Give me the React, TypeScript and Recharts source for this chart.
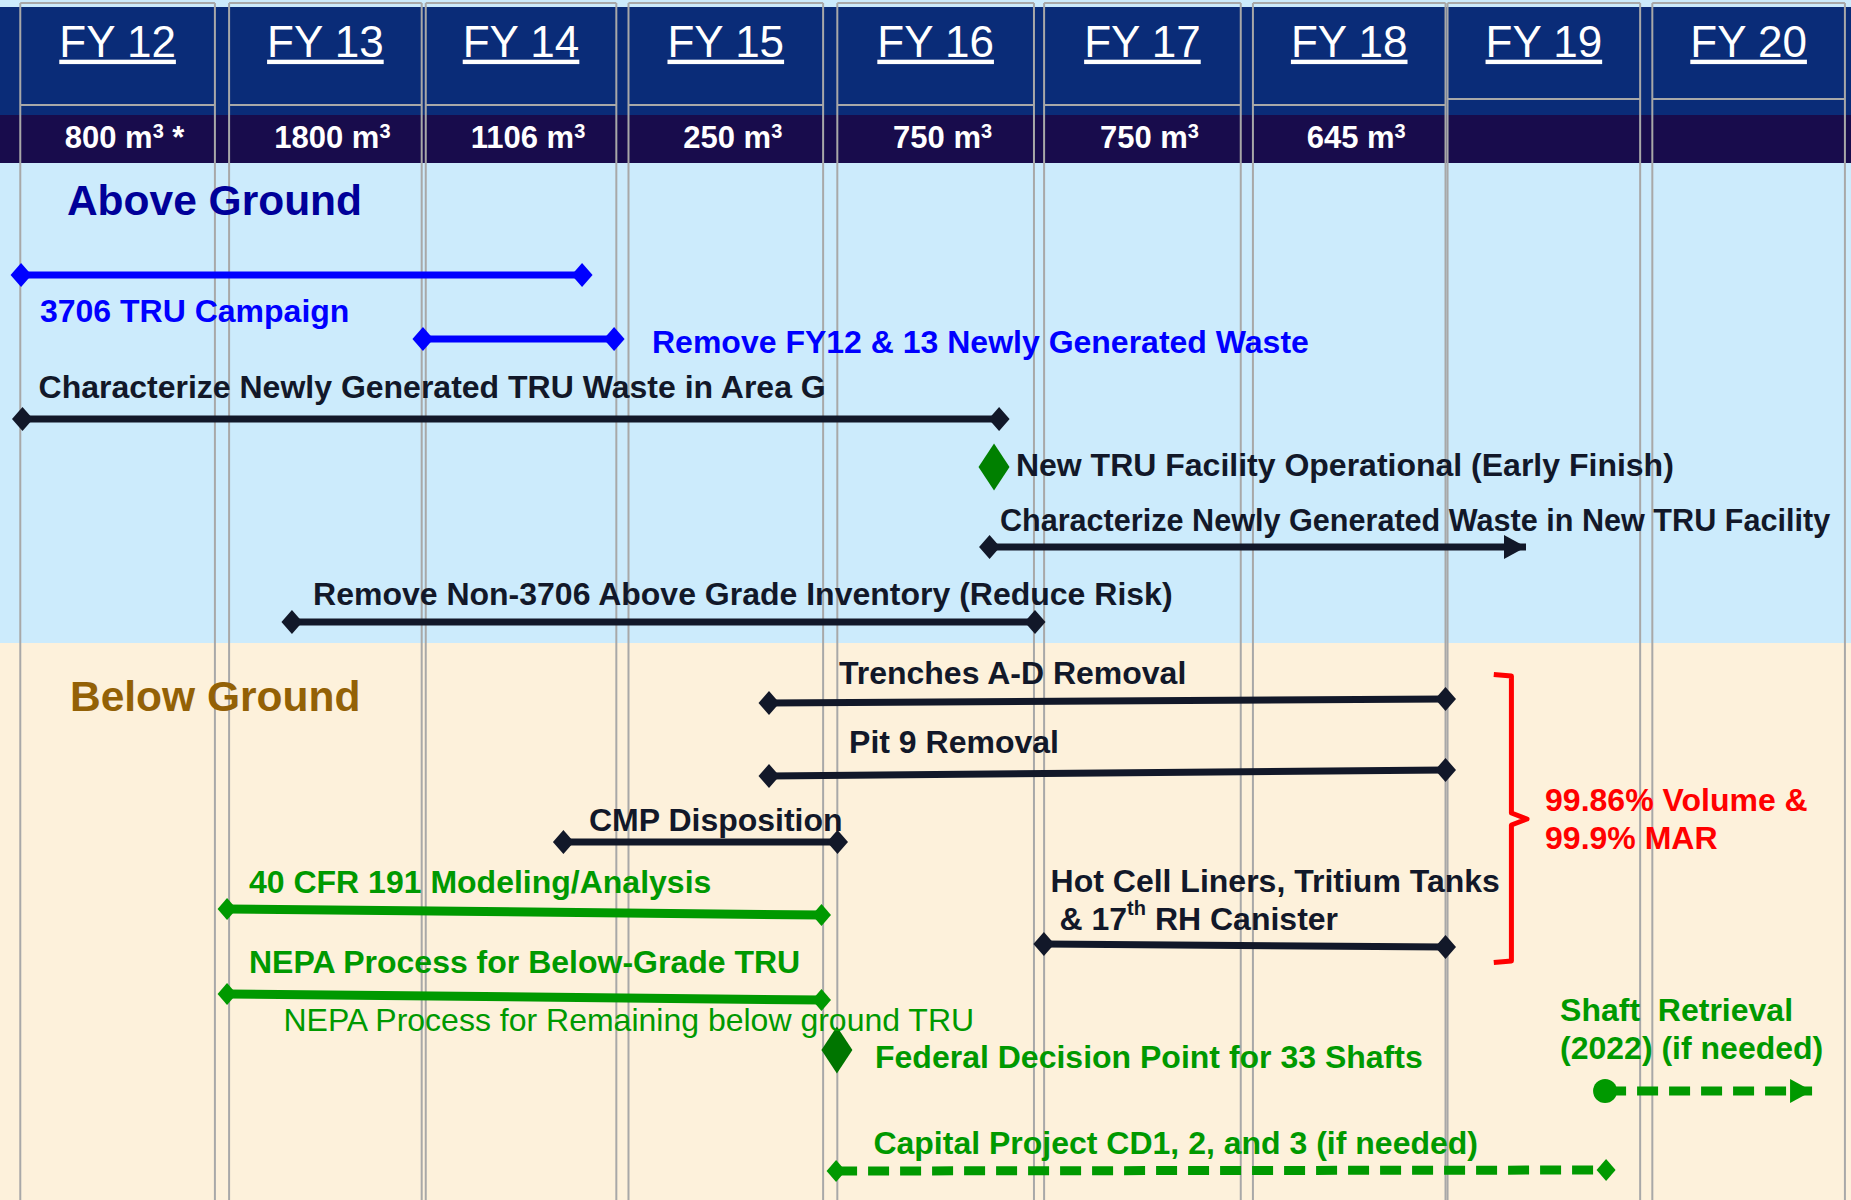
import React from 'react';
import { ComposedChart, XAxis, YAxis, Line, Scatter, ReferenceArea, ReferenceLine } from 'recharts';

const FONT = "'Liberation Sans', Arial, Helvetica, sans-serif";
const X_DOMAIN: [number, number] = [11.9, 21.03];
const Y_DOMAIN: [number, number] = [0, 120];

// header columns (fiscal years)
const fiscalYears = ['FY 12', 'FY 13', 'FY 14', 'FY 15', 'FY 16', 'FY 17', 'FY 18', 'FY 19', 'FY 20'];
const volumes = ['800', '1800', '1106', '250', '750', '750', '645', '', ''];
const volumeNotes = [' *', '', '', '', '', '', '', '', ''];
const columnStart = [12.0, 13.03, 14.0, 15.0, 16.03, 17.05, 18.08, 19.04, 20.05];
const columnEnd = [12.96, 13.98, 14.94, 15.96, 17.0, 18.02, 19.03, 19.99, 21.0];
const headerSplit = [10.5, 10.5, 10.5, 10.5, 10.5, 10.5, 10.5, 9.9, 9.9];

// row bands
const bands = [
  { name: 'top', from: 0, to: 0.7, tone: 'sky' },
  { name: 'headerTop', from: 0.7, to: 11.5, tone: 'headerBlue' },
  { name: 'headerBottom', from: 11.5, to: 16.3, tone: 'headerIndigo' },
  { name: 'Above Ground', from: 16.3, to: 64.3, tone: 'sky' },
  { name: 'Below Ground', from: 64.3, to: 120, tone: 'sand' },
];

// activities: start / end in fiscal-year units, lane positions
const tasks = [
  { name: '3706 TRU Campaign', x1: 12.004, x2: 14.771, y1: 27.5, y2: 27.5, tone: 'blue', start: 'diamond', end: 'diamond', planned: false },
  { name: 'Remove FY12 & 13 Newly Generated Waste', x1: 13.986, x2: 14.929, y1: 33.9, y2: 33.9, tone: 'blue', start: 'diamond', end: 'diamond', planned: false },
  { name: 'Characterize Newly Generated TRU Waste in Area G', x1: 12.011, x2: 16.828, y1: 41.9, y2: 41.9, tone: 'dark', start: 'diamond', end: 'diamond', planned: false },
  { name: 'Characterize Newly Generated Waste in New TRU Facility', x1: 16.781, x2: 19.427, y1: 54.7, y2: 54.7, tone: 'dark', start: 'diamond', end: 'arrow', planned: false },
  { name: 'Remove Non-3706 Above Grade Inventory', x1: 13.34, x2: 17.005, y1: 62.2, y2: 62.2, tone: 'dark', start: 'diamond', end: 'diamond', planned: false },
  { name: 'Trenches A-D Removal', x1: 15.693, x2: 19.03, y1: 70.3, y2: 69.9, tone: 'dark', start: 'diamond', end: 'diamond', planned: false },
  { name: 'Pit 9 Removal', x1: 15.693, x2: 19.03, y1: 77.6, y2: 77.0, tone: 'dark', start: 'diamond', end: 'diamond', planned: false },
  { name: 'CMP Disposition', x1: 14.679, x2: 16.031, y1: 84.2, y2: 84.2, tone: 'dark', start: 'diamond', end: 'diamond', planned: false },
  { name: '40 CFR 191 Modeling/Analysis', x1: 13.02, x2: 15.952, y1: 90.9, y2: 91.5, tone: 'green', start: 'diamond', end: 'diamond', planned: false },
  { name: 'NEPA Process for Below-Grade TRU', x1: 13.02, x2: 15.952, y1: 99.4, y2: 100.0, tone: 'green', start: 'diamond', end: 'diamond', planned: false },
  { name: 'Hot Cell Liners', x1: 17.049, x2: 19.03, y1: 94.4, y2: 94.7, tone: 'dark', start: 'diamond', end: 'diamond', planned: false },
  { name: 'Capital Project CD1, 2, and 3', x1: 16.024, x2: 19.822, y1: 117.1, y2: 117.0, tone: 'green', start: 'diamond', end: 'diamond', planned: true },
  { name: 'Shaft Retrieval', x1: 19.817, x2: 20.838, y1: 109.1, y2: 109.1, tone: 'green', start: 'circle', end: 'arrow', planned: true },
];

const milestones = [
  { name: 'New TRU Facility Operational', x: 16.803, y: 46.7, tone: 'milestone' },
  { name: 'Federal Decision Point for 33 Shafts', x: 16.028, y: 105.0, tone: 'milestoneDark' },
];

// bracket grouping below-ground removals
const bracket = [
  { x: 19.268, y: 67.45 },
  { x: 19.355, y: 67.6 },
  { x: 19.355, y: 81.3 },
  { x: 19.432, y: 81.9 },
  { x: 19.355, y: 82.5 },
  { x: 19.355, y: 96.1 },
  { x: 19.268, y: 96.25 },
];

const labels = [
  { text: 'Above Ground', x: 12.23, y: 20.0, tone: 'section', sup: '', after: '' },
  { text: 'Below Ground', x: 12.245, y: 69.6, tone: 'sectionBrown', sup: '', after: '' },
  { text: '3706 TRU Campaign', x: 12.097, y: 31.1, tone: 'blue', sup: '', after: '' },
  { text: 'Remove FY12 & 13 Newly Generated Waste', x: 15.116, y: 34.2, tone: 'blue', sup: '', after: '' },
  { text: 'Characterize Newly Generated TRU Waste in Area G', x: 12.09, y: 38.7, tone: 'dark', sup: '', after: '' },
  { text: 'New TRU Facility Operational (Early Finish)', x: 16.911, y: 46.5, tone: 'dark', sup: '', after: '' },
  { text: 'Characterize Newly Generated Waste in New TRU Facility', x: 16.832, y: 52.0, tone: 'darkNarrow', sup: '', after: '' },
  { text: 'Remove Non-3706 Above Grade Inventory (Reduce Risk)', x: 13.444, y: 59.4, tone: 'dark', sup: '', after: '' },
  { text: 'Trenches A-D Removal', x: 16.038, y: 67.3, tone: 'dark', sup: '', after: '' },
  { text: 'Pit 9 Removal', x: 16.088, y: 74.2, tone: 'dark', sup: '', after: '' },
  { text: 'CMP Disposition', x: 14.805, y: 82.0, tone: 'dark', sup: '', after: '' },
  { text: '40 CFR 191 Modeling/Analysis', x: 13.128, y: 88.2, tone: 'green', sup: '', after: '' },
  { text: 'NEPA Process for Below-Grade TRU', x: 13.128, y: 96.2, tone: 'green', sup: '', after: '' },
  { text: 'NEPA Process for Remaining below ground TRU', x: 13.298, y: 102.0, tone: 'greenLight', sup: '', after: '' },
  { text: 'Federal Decision Point for 33 Shafts', x: 16.216, y: 105.7, tone: 'green', sup: '', after: '' },
  { text: 'Capital Project CD1, 2, and 3 (if needed)', x: 16.208, y: 114.3, tone: 'green', sup: '', after: '' },
  { text: 'Shaft  Retrieval', x: 19.595, y: 101.0, tone: 'green', sup: '', after: '' },
  { text: '(2022) (if needed)', x: 19.595, y: 104.8, tone: 'green', sup: '', after: '' },
  { text: 'Hot Cell Liners, Tritium Tanks', x: 17.082, y: 88.1, tone: 'dark', sup: '', after: '' },
  { text: '& 17', x: 17.126, y: 91.9, tone: 'dark', sup: 'th', after: ' RH Canister' },
  { text: '99.86% Volume &', x: 19.521, y: 80.0, tone: 'red', sup: '', after: '' },
  { text: '99.9% MAR', x: 19.521, y: 83.8, tone: 'red', sup: '', after: '' },
];

const COLORS: Record<string, string> = {
  sky: '#CCEBFC',
  sand: '#FDF1DB',
  headerBlue: '#0A2C78',
  headerIndigo: '#180C4C',
  grid: '#A8A8A8',
  blue: '#0000FF',
  dark: '#121829',
  darkNarrow: '#121829',
  green: '#009900',
  greenLight: '#009900',
  red: '#FF0000',
  section: '#000099',
  sectionBrown: '#936106',
  milestone: '#008000',
  milestoneDark: '#007500',
};

const LABEL_STYLE: Record<string, { size: number; weight: string }> = {
  section: { size: 42.5, weight: 'bold' },
  sectionBrown: { size: 42.5, weight: 'bold' },
  blue: { size: 32, weight: 'bold' },
  dark: { size: 32, weight: 'bold' },
  darkNarrow: { size: 30.6, weight: 'bold' },
  green: { size: 32, weight: 'bold' },
  greenLight: { size: 32, weight: 'normal' },
  red: { size: 32, weight: 'bold' },
};

const headerRows = fiscalYears.map((fy, i) => ({
  x: (columnStart[i] + columnEnd[i]) / 2,
  y: 5.67,
  fy,
  vol: volumes[i],
  note: volumeNotes[i],
}));
const volumeRows = headerRows.map((r) => ({ ...r, y: 14.8 }));

const diamondPath = (cx: number, cy: number, w: number, h: number) =>
  `M${cx - w / 2},${cy} L${cx},${cy - h / 2} L${cx + w / 2},${cy} L${cx},${cy + h / 2} Z`;

const makeDot = (task: any) => (props: any) => {
  const { cx, cy, index } = props;
  const kind = index === 0 ? task.start : task.end;
  const color = COLORS[task.tone];
  const key = `${task.name}-${index}`;
  if (cx == null || cy == null) return <g key={key} />;
  if (kind === 'diamond') {
    const w = task.tone === 'green' ? 19 : 21;
    const h = task.tone === 'green' ? 22 : 24;
    return <path key={key} d={diamondPath(cx, cy, w, h)} fill={color} />;
  }
  if (kind === 'arrow') {
    return <path key={key} d={`M${cx},${cy} L${cx - 22},${cy - 12} L${cx - 22},${cy + 12} Z`} fill={color} />;
  }
  if (kind === 'circle') {
    return <ellipse key={key} cx={cx} cy={cy} rx={12} ry={12} fill={color} />;
  }
  return <g key={key} />;
};

const LabelShape = (props: any) => {
  const { cx, cy, payload } = props;
  if (cx == null || cy == null) return <g />;
  const st = LABEL_STYLE[payload.tone];
  return (
    <text
      x={cx}
      y={cy}
      fill={COLORS[payload.tone]}
      fontSize={st.size}
      fontWeight={st.weight}
      fontFamily={FONT}
      dominantBaseline="central"
      style={{ whiteSpace: 'pre' }}
    >
      <tspan>{payload.text}</tspan>
      {payload.sup ? (
        <tspan fontSize={20} dy={-11}>
          {payload.sup}
        </tspan>
      ) : null}
      {payload.after ? <tspan dy={payload.sup ? 11 : 0}>{payload.after}</tspan> : null}
    </text>
  );
};

const FyShape = (props: any) => {
  const { cx, cy, payload } = props;
  if (cx == null || cy == null) return <g />;
  return (
    <text x={cx} y={cy} fill="#FFFFFF" fontSize={44} fontFamily={FONT} textAnchor="middle" textDecoration="underline">
      {payload.fy}
    </text>
  );
};

const VolumeShape = (props: any) => {
  const { cx, cy, payload } = props;
  if (cx == null || cy == null || !payload.vol) return <g />;
  return (
    <text x={cx} y={cy} dx={7} fill="#FFFFFF" fontSize={31} fontWeight="bold" fontFamily={FONT} textAnchor="middle" style={{ whiteSpace: 'pre' }}>
      <tspan>{payload.vol + ' m'}</tspan>
      <tspan fontSize={20} dy={-10}>3</tspan>
      {payload.note ? <tspan dy={10}>{payload.note}</tspan> : null}
    </text>
  );
};

const MilestoneShape = (props: any) => {
  const { cx, cy, payload } = props;
  if (cx == null || cy == null) return <g />;
  return <path d={diamondPath(cx, cy, 31, 47)} fill={COLORS[payload.tone]} />;
};

export default function App() {
  const edges = [...columnStart, ...columnEnd];
  return (
    <div style={{ position: 'absolute', left: 0, top: 0, width: 1851, height: 1200, background: COLORS.sky }}>
      <ComposedChart width={1851} height={1200} margin={{ top: 0, right: 0, bottom: 0, left: 0 }}>
        <XAxis type="number" dataKey="x" domain={X_DOMAIN} hide allowDataOverflow />
        <YAxis type="number" dataKey="y" domain={Y_DOMAIN} reversed hide allowDataOverflow />
        {bands.map((b) => (
          <ReferenceArea
            key={b.name}
            x1={X_DOMAIN[0]}
            x2={X_DOMAIN[1]}
            y1={b.from}
            y2={b.to}
            fill={COLORS[b.tone]}
            fillOpacity={1}
            stroke="none"
            ifOverflow="extendDomain"
          />
        ))}
        {edges.map((e, i) => (
          <ReferenceLine
            key={`edge-${i}`}
            segment={[
              { x: e, y: 0.3 },
              { x: e, y: 120 },
            ]}
            stroke={COLORS.grid}
            strokeWidth={2}
          />
        ))}
        {columnStart.map((s, i) => (
          <ReferenceLine
            key={`top-${i}`}
            segment={[
              { x: s, y: 0.3 },
              { x: columnEnd[i], y: 0.3 },
            ]}
            stroke={COLORS.grid}
            strokeWidth={2}
          />
        ))}
        {columnStart.map((s, i) => (
          <ReferenceLine
            key={`split-${i}`}
            segment={[
              { x: s, y: headerSplit[i] },
              { x: columnEnd[i], y: headerSplit[i] },
            ]}
            stroke={COLORS.grid}
            strokeWidth={2}
          />
        ))}
        {tasks.map((t) => (
          <Line
            key={t.name}
            data={[
              { x: t.x1, y: t.y1 },
              { x: t.x2, y: t.y2 },
            ]}
            dataKey="y"
            type="linear"
            stroke={COLORS[t.tone]}
            strokeWidth={t.tone === 'green' ? 9 : 7}
            strokeDasharray={t.planned ? '21 11' : undefined}
            dot={makeDot(t)}
            activeDot={false}
            isAnimationActive={false}
            legendType="none"
          />
        ))}
        <Line
          data={bracket}
          dataKey="y"
          type="linear"
          stroke={COLORS.red}
          strokeWidth={5}
          strokeLinejoin="round"
          dot={false}
          activeDot={false}
          isAnimationActive={false}
          legendType="none"
        />
        <Scatter data={milestones} dataKey="y" shape={MilestoneShape} isAnimationActive={false} legendType="none" />
        <Scatter data={headerRows} dataKey="y" shape={FyShape} isAnimationActive={false} legendType="none" />
        <Scatter data={volumeRows} dataKey="y" shape={VolumeShape} isAnimationActive={false} legendType="none" />
        <Scatter data={labels} dataKey="y" shape={LabelShape} isAnimationActive={false} legendType="none" />
      </ComposedChart>
    </div>
  );
}
